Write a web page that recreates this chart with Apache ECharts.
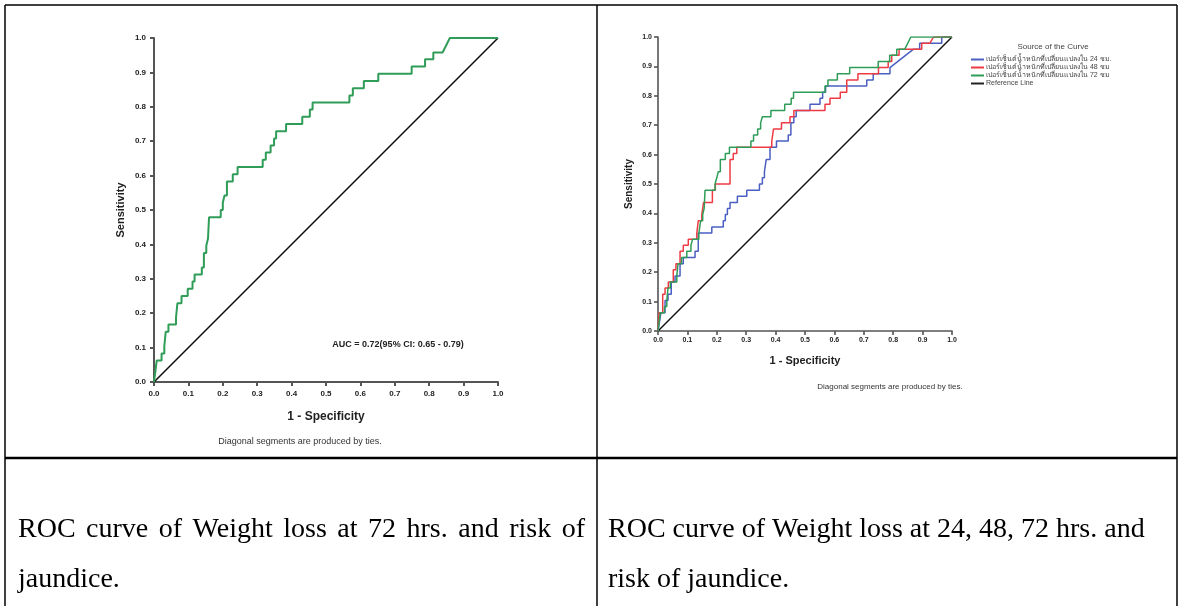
<!DOCTYPE html>
<html>
<head>
<meta charset="utf-8">
<script src="https://cdn.jsdelivr.net/npm/echarts@6/dist/echarts.min.js"></script>
<style>
html,body{margin:0;padding:0;background:#fff;}
#c{width:1182px;height:606px;}
</style>
</head>
<body>
<div id="c"></div>
<script>
// ---- data: ROC curve vertices [1 - specificity, sensitivity] ----
const roc72 = [[0,0],[0.008,0.0625],[0.022,0.0625],[0.022,0.083],[0.030,0.083],[0.030,0.104],[0.034,0.104],[0.034,0.146],[0.042,0.146],[0.042,0.167],[0.064,0.167],[0.064,0.1875],[0.068,0.1875],[0.068,0.229],[0.080,0.229],[0.080,0.25],[0.098,0.25],[0.098,0.271],[0.112,0.271],[0.112,0.292],[0.118,0.292],[0.118,0.3125],[0.139,0.3125],[0.139,0.333],[0.145,0.333],[0.145,0.375],[0.152,0.375],[0.152,0.396],[0.157,0.396],[0.157,0.417],[0.160,0.417],[0.160,0.479],[0.194,0.479],[0.194,0.5],[0.200,0.5],[0.200,0.521],[0.205,0.521],[0.205,0.542],[0.212,0.542],[0.212,0.583],[0.229,0.583],[0.229,0.604],[0.243,0.604],[0.243,0.625],[0.316,0.625],[0.316,0.646],[0.325,0.646],[0.325,0.667],[0.339,0.667],[0.339,0.6875],[0.349,0.6875],[0.349,0.708],[0.355,0.708],[0.355,0.729],[0.384,0.729],[0.384,0.75],[0.431,0.75],[0.431,0.771],[0.453,0.771],[0.453,0.792],[0.461,0.792],[0.461,0.8125],[0.568,0.8125],[0.568,0.833],[0.578,0.833],[0.578,0.854],[0.610,0.854],[0.610,0.875],[0.652,0.875],[0.652,0.896],[0.749,0.896],[0.749,0.917],[0.788,0.917],[0.788,0.938],[0.812,0.938],[0.812,0.958],[0.839,0.958],[0.860,1.0],[1.0,1.0]];

const roc48 = [[0,0],[0.004,0.0625],[0.016,0.0625],[0.016,0.125],[0.024,0.125],[0.024,0.146],[0.035,0.146],[0.035,0.167],[0.052,0.167],[0.052,0.208],[0.061,0.208],[0.061,0.229],[0.075,0.229],[0.075,0.271],[0.086,0.271],[0.086,0.292],[0.103,0.292],[0.103,0.3125],[0.132,0.3125],[0.132,0.333],[0.137,0.333],[0.137,0.375],[0.149,0.375],[0.149,0.396],[0.155,0.396],[0.155,0.4375],[0.185,0.4375],[0.185,0.479],[0.195,0.479],[0.195,0.5],[0.245,0.5],[0.245,0.583],[0.256,0.583],[0.256,0.604],[0.268,0.604],[0.268,0.625],[0.387,0.625],[0.387,0.646],[0.393,0.646],[0.393,0.6875],[0.420,0.6875],[0.420,0.708],[0.449,0.708],[0.449,0.729],[0.462,0.729],[0.462,0.75],[0.568,0.75],[0.568,0.771],[0.585,0.771],[0.585,0.792],[0.620,0.792],[0.620,0.8125],[0.642,0.8125],[0.642,0.854],[0.680,0.854],[0.680,0.875],[0.750,0.875],[0.750,0.896],[0.783,0.896],[0.783,0.917],[0.795,0.917],[0.795,0.938],[0.820,0.938],[0.820,0.958],[0.897,0.958],[0.897,0.979],[0.925,0.979],[0.937,1.0],[1.0,1.0]];

const roc24 = [[0,0],[0.010,0.0625],[0.024,0.0625],[0.024,0.104],[0.034,0.104],[0.034,0.125],[0.045,0.125],[0.045,0.167],[0.058,0.167],[0.058,0.1875],[0.075,0.1875],[0.075,0.229],[0.086,0.229],[0.086,0.25],[0.126,0.25],[0.126,0.271],[0.137,0.271],[0.137,0.333],[0.183,0.333],[0.183,0.354],[0.222,0.354],[0.222,0.375],[0.229,0.375],[0.229,0.396],[0.236,0.396],[0.236,0.417],[0.245,0.417],[0.245,0.4375],[0.270,0.4375],[0.270,0.458],[0.302,0.458],[0.302,0.479],[0.345,0.479],[0.345,0.5],[0.355,0.5],[0.355,0.521],[0.362,0.521],[0.362,0.542],[0.368,0.542],[0.368,0.583],[0.381,0.583],[0.381,0.625],[0.403,0.625],[0.403,0.646],[0.443,0.646],[0.443,0.667],[0.452,0.667],[0.452,0.708],[0.462,0.708],[0.462,0.729],[0.470,0.729],[0.470,0.75],[0.517,0.75],[0.517,0.771],[0.551,0.771],[0.551,0.792],[0.560,0.792],[0.560,0.8125],[0.570,0.8125],[0.570,0.833],[0.710,0.833],[0.710,0.854],[0.732,0.854],[0.732,0.875],[0.789,0.875],[0.789,0.896],[0.868,0.958],[0.890,0.958],[0.890,0.979],[0.965,0.979],[0.965,1.0],[1.0,1.0]];

const refLine = [[0,0],[1,1]];

const seriesNames = [
  'เปอร์เซ็นต์น้ำหนักที่เปลี่ยนแปลงใน 24 ชม.',
  'เปอร์เซ็นต์น้ำหนักที่เปลี่ยนแปลงใน 48 ชม',
  'เปอร์เซ็นต์น้ำหนักที่เปลี่ยนแปลงใน 72 ชม',
  'Reference Line'
];
const aucText = 'AUC = 0.72(95% CI: 0.65 - 0.79)';
const tiesNote = 'Diagonal segments are produced by ties.';
const captionLeft = ['ROC curve of Weight loss at 72 hrs. and risk of', 'jaundice.'];
const captionRight = ['ROC curve of Weight loss at 24, 48, 72 hrs. and', 'risk of jaundice.'];

// ---- styling ----
const GREEN = '#2f9c57', RED = '#ee3b43', BLUE = '#4a5fc1', AXIS = '#555';
const SANS = '"Liberation Sans", Arial, sans-serif';
const SERIF = '"Liberation Serif", "Times New Roman", serif';
const CAP_FS = 28;

function axis(gridIndex, fs, lw, nameFs, nameGap, name, labelMargin) {
  return {
    type: 'value', gridIndex, min: 0, max: 1, interval: 0.1,
    name, nameLocation: 'middle', nameGap,
    nameTextStyle: {fontFamily: SANS, fontWeight: 'bold', fontSize: nameFs, color: '#222'},
    axisLine: {show: true, lineStyle: {color: AXIS, width: lw}},
    axisTick: {show: true, length: 4, lineStyle: {color: AXIS, width: lw}},
    axisLabel: {fontFamily: SANS, fontWeight: 'bold', fontSize: fs, color: '#222', margin: labelMargin,
      formatter: v => v.toFixed(1)},
    splitLine: {show: false}
  };
}

// justified text line (table cell paragraph) built from words
const measureCtx = document.createElement('canvas').getContext('2d');
function justifiedLine(text, x0, x1, y, fs) {
  measureCtx.font = fs + 'px ' + SERIF;
  const words = text.split(' ');
  const widths = words.map(w => measureCtx.measureText(w).width);
  const total = widths.reduce((a, b) => a + b, 0);
  const gap = (x1 - x0 - total) / (words.length - 1);
  let x = x0;
  return words.map((w, i) => {
    const el = {type: 'text', x, y, style: {text: w, fontFamily: SERIF, fontSize: fs, fill: '#000', textVerticalAlign: 'middle'}};
    x += widths[i] + gap;
    return el;
  });
}
function plainLine(text, x, y, fs) {
  return {type: 'text', x, y, style: {text, fontFamily: SERIF, fontSize: fs, fill: '#000', textVerticalAlign: 'middle'}};
}

const chart = echarts.init(document.getElementById('c'), null, {renderer: 'canvas'});
chart.setOption({
  animation: false,
  backgroundColor: '#fff',
  grid: [
    {left: 154, top: 38, width: 344, height: 344},
    {left: 658, top: 37, width: 294, height: 294}
  ],
  xAxis: [
    axis(0, 8, 2, 12, 29, '1 - Specificity', 8),
    axis(1, 7, 1.6, 11, 24, '1 - Specificity', 6)
  ],
  yAxis: [
    axis(0, 8, 2, 11, 28, 'Sensitivity', 8),
    axis(1, 7, 1.6, 10, 24, 'Sensitivity', 6)
  ],
  legend: {
    data: seriesNames,
    orient: 'vertical', left: 966, top: 51,
    icon: 'rect', itemWidth: 13, itemHeight: 2, itemGap: 1,
    textStyle: {fontFamily: SANS, fontSize: 7, color: '#444', padding: [0,0,0,-3]},
    selectedMode: false
  },
  series: [
    {name: 'Reference (left)', type: 'line', xAxisIndex: 0, yAxisIndex: 0, data: refLine,
      symbol: 'none', lineStyle: {color: '#111', width: 1.6}, z: 2},
    {name: '72 hrs (left)', type: 'line', xAxisIndex: 0, yAxisIndex: 0, data: roc72,
      symbol: 'none', lineStyle: {color: GREEN, width: 2}, z: 3},
    {name: seriesNames[3], type: 'line', xAxisIndex: 1, yAxisIndex: 1, data: refLine,
      symbol: 'none', itemStyle: {color: '#222'}, lineStyle: {color: '#111', width: 1.5}, z: 2},
    {name: seriesNames[0], type: 'line', xAxisIndex: 1, yAxisIndex: 1, data: roc24,
      symbol: 'none', itemStyle: {color: BLUE}, lineStyle: {color: BLUE, width: 1.5}, z: 3},
    {name: seriesNames[1], type: 'line', xAxisIndex: 1, yAxisIndex: 1, data: roc48,
      symbol: 'none', itemStyle: {color: RED}, lineStyle: {color: RED, width: 1.5}, z: 4},
    {name: seriesNames[2], type: 'line', xAxisIndex: 1, yAxisIndex: 1, data: roc72,
      symbol: 'none', itemStyle: {color: GREEN}, lineStyle: {color: GREEN, width: 1.5}, z: 5}
  ],
  graphic: [
    // table lines
    {type: 'line', shape: {x1: 5, y1: 5, x2: 1177, y2: 5}, style: {stroke: '#000', lineWidth: 1.5}},
    {type: 'line', shape: {x1: 5, y1: 5, x2: 5, y2: 606}, style: {stroke: '#000', lineWidth: 1.5}},
    {type: 'line', shape: {x1: 1177, y1: 5, x2: 1177, y2: 606}, style: {stroke: '#000', lineWidth: 1.5}},
    {type: 'line', shape: {x1: 597, y1: 5, x2: 597, y2: 606}, style: {stroke: '#000', lineWidth: 1.5}},
    {type: 'line', shape: {x1: 5, y1: 458, x2: 1177, y2: 458}, style: {stroke: '#000', lineWidth: 2.5}},
    // chart texts
    {type: 'text', x: 398, y: 345, style: {text: aucText, fontFamily: SANS, fontWeight: 'bold', fontSize: 9, fill: '#222', textAlign: 'center', textVerticalAlign: 'middle'}},
    {type: 'text', x: 300, y: 442, style: {text: tiesNote, fontFamily: SANS, fontSize: 9, fill: '#333', textAlign: 'center', textVerticalAlign: 'middle'}},
    {type: 'text', x: 890, y: 387, style: {text: tiesNote, fontFamily: SANS, fontSize: 8, fill: '#333', textAlign: 'center', textVerticalAlign: 'middle'}},
    {type: 'text', x: 1053, y: 47, style: {text: 'Source of the Curve', fontFamily: SANS, fontSize: 8, fill: '#444', textAlign: 'center', textVerticalAlign: 'middle'}},
    // captions
    ...justifiedLine(captionLeft[0], 18, 585, 530, CAP_FS),
    plainLine(captionLeft[1], 18, 580, CAP_FS),
    plainLine(captionRight[0], 608, 530, CAP_FS),
    plainLine(captionRight[1], 608, 580, CAP_FS)
  ]
});
</script>
</body>
</html>
